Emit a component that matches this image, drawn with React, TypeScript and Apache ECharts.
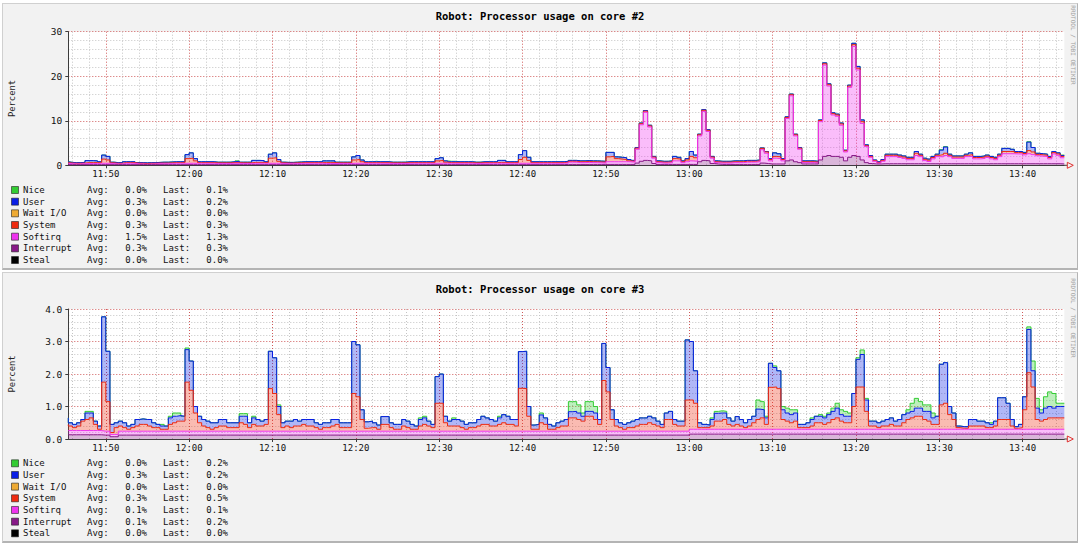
import React, { useEffect, useRef } from "react";
import * as echarts from "echarts";

// ---------- time categories: 30 s slots from 11:45:30 to 13:45:00 ----------
const START_SECONDS = 11 * 3600 + 45 * 60 + 30;
const STEP_SECONDS = 30;
const SLOT_COUNT = 240;
const pad = (n: number) => String(n).padStart(2, "0");
const TIME_CATEGORIES: string[] = Array.from({ length: SLOT_COUNT }, (_, k) => {
  const s = START_SECONDS + k * STEP_SECONDS;
  return `${pad(Math.floor(s / 3600))}:${pad(Math.floor((s % 3600) / 60))}:${pad(s % 60)}`;
});

// ---------- legend ----------
const LEGEND_NAMES = ["Nice", "User", "Wait I/O", "System", "Softirq", "Interrupt", "Steal"];
const LEGEND_COLORS = ["#33cc33", "#0a1ee6", "#eeaa33", "#ee2a10", "#ee33ee", "#881a88", "#000000"];
const TOP_AVG = ["0.0%", "0.3%", "0.0%", "0.3%", "1.5%", "0.3%", "0.0%"];
const TOP_LAST = ["0.1%", "0.2%", "0.0%", "0.3%", "1.3%", "0.3%", "0.0%"];
const BOT_AVG = ["0.0%", "0.3%", "0.0%", "0.3%", "0.1%", "0.1%", "0.0%"];
const BOT_LAST = ["0.2%", "0.2%", "0.0%", "0.5%", "0.1%", "0.2%", "0.0%"];
const TOP_TITLE = "Robot: Processor usage on core #2";
const BOT_TITLE = "Robot: Processor usage on core #3";
const Y_NAME = "Percent";
const WATERMARK = "RRDTOOL / TOBI OETIKER";
const TOP_Y_MAX = 30;
const TOP_Y_STEP = 10;
const BOT_Y_MAX = 4;
const BOT_Y_STEP = 1;

// ---------- core #2 (top) ----------
const TOP_NICE = [
  0,0,0,0,0,0,0,0,0,0, 0,0,0,0,0,0,0,0,0,0,
  0,0,0,0,0,0,0,0,0,0, 0,0,0,0,0,0,0,0,0,0,
  0,0.1,0,0,0,0,0,0,0,0, 0,0,0,0,0,0,0,0,0,0,
  0,0,0,0,0,0,0,0,0,0, 0,0,0,0,0.1,0,0,0,0,0,
  0,0,0,0,0,0,0,0,0,0, 0,0,0.1,0.1,0,0,0,0,0,0,
  0,0,0,0,0,0,0,0,0,0, 0,0,0,0,0,0,0,0,0,0,
  0,0,0,0,0,0,0,0,0,0, 0,0,0,0,0,0,0,0,0,0,
  0,0,0,0,0,0,0,0,0,0, 0,0,0,0,0,0,0,0,0,0,
  0,0,0,0,0,0,0,0,0,0, 0,0,0,0,0,0,0,0,0,0,
  0,0,0,0,0,0,0,0,0,0, 0,0,0,0,0,0,0,0,0,0,
  0,0,0,0,0,0,0,0,0,0, 0.1,0.1,0,0,0,0,0,0,0,0,
  0,0,0,0,0,0,0,0,0,0, 0,0.1,0,0,0,0,0,0,0,0.1,
];
const TOP_USER = [
  0.2,0.15,0.15,0.15,0.15,0.45,0.45,0.4,0.2,0.9, 0.8,0.15,0.15,0.15,0.2,0.2,0.2,0.15,0.15,0.15,
  0.15,0.15,0.15,0.2,0.2,0.2,0.2,0.2,0.2,0.9, 1.2,0.5,0.2,0.2,0.2,0.2,0.15,0.15,0.15,0.15,
  0.2,0.3,0.15,0.15,0.15,0.45,0.45,0.4,0.2,0.9, 1.1,0.4,0.15,0.15,0.15,0.15,0.2,0.2,0.2,0.2,
  0.2,0.2,0.4,0.4,0.4,0.15,0.15,0.15,0.15,0.7, 0.9,0.4,0.2,0.2,0.2,0.2,0.2,0.2,0.15,0.15,
  0.15,0.15,0.2,0.2,0.2,0.2,0.2,0.2,0.2,0.5, 0.6,0.3,0.2,0.2,0.2,0.2,0.2,0.2,0.15,0.15,
  0.2,0.2,0.2,0.2,0.45,0.45,0.2,0.2,0.2,1.1, 1.5,0.7,0.2,0.2,0.2,0.2,0.2,0.2,0.2,0.2,
  0.2,0.2,0.2,0.2,0.2,0.2,0.2,0.2,0.2,0.2, 1.0,0.9,0.4,0.4,0.4,0.3,0.2,0.15,0.15,0.15,
  0.15,0.15,0.2,0.2,0.2,0.2,0.5,0.4,0.2,0.3, 1.1,0.6,0.15,0.15,0.15,0.15,0.2,0.2,0.2,0.2,
  0.2,0.2,0.2,0.2,0.2,0.2,0.2,0.1,0.1,0.2, 0.8,0.7,0.2,0.15,0.15,0.15,0.15,0.2,0.2,0.2,
  0.2,0.15,0.2,0.2,0.2,0.2,0.2,0.15,0.2,0.3, 0.4,0.4,0.2,0.2,0.15,0.15,0.2,0.25,0.25,0.25,
  0.25,0.25,0.25,0.25,0.4,0.25,0.25,0.25,0.25,0.25, 1.0,1.4,0.25,0.25,0.25,0.25,0.25,0.4,0.25,0.25,
  0.25,0.25,0.25,0.25,0.25,0.7,0.7,0.5,0.25,0.25, 0.25,1.9,1.0,0.25,0.25,0.25,0.25,0.25,0.25,0.2,
];
const TOP_SYSTEM = [
  0.15,0.15,0.15,0.15,0.15,0.2,0.2,0.2,0.15,0.95, 0.75,0.15,0.15,0.15,0.15,0.15,0.15,0.15,0.15,0.15,
  0.15,0.15,0.15,0.15,0.15,0.15,0.15,0.15,0.15,1.05, 1.15,0.55,0.15,0.15,0.15,0.15,0.15,0.15,0.15,0.15,
  0.15,0.15,0.15,0.15,0.15,0.2,0.2,0.2,0.15,1.15, 1.25,0.45,0.15,0.15,0.15,0.15,0.15,0.15,0.15,0.15,
  0.15,0.15,0.2,0.2,0.2,0.15,0.15,0.15,0.15,0.75, 0.85,0.35,0.15,0.15,0.15,0.15,0.15,0.15,0.15,0.15,
  0.15,0.15,0.15,0.15,0.15,0.15,0.15,0.15,0.15,0.55, 0.65,0.25,0.15,0.15,0.15,0.15,0.15,0.15,0.15,0.15,
  0.15,0.15,0.15,0.15,0.2,0.2,0.15,0.15,0.15,0.85, 1.35,0.65,0.15,0.15,0.15,0.15,0.15,0.15,0.15,0.15,
  0.2,0.2,0.2,0.2,0.2,0.2,0.2,0.2,0.2,0.2, 1.1,1.2,0.7,0.6,0.5,0.2,0.2,0.25,0.25,0.25,
  0.25,0.25,0.2,0.2,0.2,0.2,0.5,0.4,0.2,0.4, 1.0,0.8,0.25,0.25,0.25,0.25,0.2,0.2,0.2,0.2,
  0.2,0.2,0.2,0.2,0.2,0.2,0.2,0.3,0.3,0.3, 0.4,0.4,0.3,0.25,0.25,0.25,0.25,0.2,0.2,0.2,
  0.2,0.25,0.3,0.3,0.3,0.3,0.3,0.25,0.3,0.4, 0.4,0.4,0.2,0.2,0.15,0.15,0.2,0.3,0.3,0.3,
  0.3,0.3,0.3,0.3,0.5,0.3,0.3,0.3,0.3,0.3, 0.5,0.5,0.3,0.3,0.3,0.3,0.3,0.4,0.3,0.3,
  0.3,0.3,0.3,0.3,0.3,0.5,0.5,0.5,0.3,0.3, 0.3,0.7,0.6,0.3,0.3,0.3,0.3,0.3,0.3,0.3,
];
const TOP_SOFTIRQ = [
  0.3,0.2,0.15,0.15,0.2,0.25,0.25,0.25,0.3,0.3, 0.3,0.25,0.15,0.15,0.3,0.3,0.3,0.15,0.15,0.1,
  0.15,0.15,0.2,0.2,0.2,0.25,0.3,0.3,0.3,0.3, 0.3,0.3,0.3,0.3,0.3,0.3,0.25,0.25,0.25,0.25,
  0.3,0.3,0.25,0.25,0.25,0.3,0.3,0.3,0.3,0.3, 0.3,0.3,0.25,0.2,0.2,0.25,0.25,0.3,0.3,0.3,
  0.3,0.3,0.25,0.25,0.25,0.25,0.25,0.25,0.25,0.3, 0.3,0.3,0.3,0.3,0.3,0.3,0.3,0.3,0.25,0.25,
  0.25,0.25,0.3,0.3,0.3,0.3,0.3,0.3,0.3,0.3, 0.3,0.3,0.3,0.3,0.3,0.3,0.3,0.3,0.25,0.25,
  0.3,0.3,0.3,0.3,0.3,0.3,0.3,0.3,0.3,0.3, 0.3,0.3,0.3,0.3,0.3,0.3,0.3,0.3,0.3,0.3,
  0.3,0.5,0.5,0.4,0.4,0.45,0.4,0.4,0.35,0.3, 0.6,0.6,0.6,0.6,0.6,0.6,0.5,3.1,8.2,10.8,
  7.6,1.2,0.4,0.3,0.3,0.4,0.8,0.8,0.4,0.6, 0.8,0.7,5.8,11.0,6.6,1.2,0.3,0.3,0.3,0.3,
  0.4,0.4,0.4,0.5,0.5,0.5,0.6,3.0,2.3,0.7, 1.3,1.2,0.7,9.5,14.4,5.8,3.0,0.3,0.3,0.3,
  0.2,8.6,20.5,15.6,9.3,9.0,7.2,2.0,15.7,24.5, 19.4,8.2,3.6,1.4,0.6,0.2,0.55,1.6,1.6,1.6,
  1.4,1.2,0.9,0.9,1.85,1.6,0.7,0.5,1.1,1.6, 1.55,1.85,1.6,1.2,1.2,1.2,1.6,1.65,1.1,1.1,
  1.2,1.4,1.1,0.9,1.6,2.25,2.25,2.25,2.2,2.2, 2.0,2.25,2.05,1.8,1.7,1.6,1.1,2.2,1.9,1.4,
];
const TOP_INTERRUPT = [
  0.15,0.15,0.15,0.15,0.15,0.15,0.15,0.15,0.15,0.15, 0.15,0.15,0.15,0.15,0.15,0.15,0.15,0.15,0.15,0.15,
  0.15,0.15,0.15,0.15,0.15,0.15,0.15,0.15,0.15,0.15, 0.15,0.15,0.15,0.15,0.15,0.15,0.15,0.15,0.15,0.15,
  0.15,0.15,0.15,0.15,0.15,0.15,0.15,0.15,0.15,0.15, 0.15,0.15,0.15,0.15,0.15,0.15,0.15,0.15,0.15,0.15,
  0.15,0.15,0.15,0.15,0.15,0.15,0.15,0.15,0.15,0.15, 0.15,0.15,0.15,0.15,0.15,0.15,0.15,0.15,0.15,0.15,
  0.15,0.15,0.15,0.15,0.15,0.15,0.15,0.15,0.15,0.15, 0.15,0.15,0.15,0.15,0.15,0.15,0.15,0.15,0.15,0.15,
  0.15,0.15,0.15,0.15,0.15,0.15,0.15,0.15,0.15,0.15, 0.15,0.15,0.15,0.15,0.15,0.15,0.15,0.15,0.15,0.15,
  0.2,0.2,0.2,0.2,0.2,0.2,0.2,0.2,0.2,0.2, 0.2,0.2,0.2,0.2,0.2,0.2,0.2,0.5,0.9,1.1,
  1.0,0.4,0.2,0.2,0.2,0.2,0.2,0.2,0.2,0.2, 0.2,0.2,0.8,1.1,1.0,0.4,0.3,0.2,0.2,0.2,
  0.2,0.2,0.2,0.2,0.2,0.2,0.2,0.5,0.4,0.3, 0.3,0.3,0.3,1.0,1.2,0.8,0.6,0.3,0.3,0.3,
  0.3,1.2,2.0,2.2,2.0,2.0,1.8,1.0,1.8,2.2, 2.0,1.2,0.6,0.4,0.3,0.3,0.35,0.35,0.35,0.35,
  0.35,0.35,0.35,0.35,0.35,0.35,0.35,0.35,0.35,0.35, 0.35,0.35,0.35,0.35,0.35,0.35,0.35,0.35,0.35,0.35,
  0.35,0.35,0.35,0.35,0.35,0.35,0.35,0.35,0.35,0.35, 0.35,0.35,0.35,0.35,0.35,0.35,0.35,0.35,0.35,0.3,
];

// ---------- core #3 (bottom) ----------
const BOT_NICE = [
  0,0,0,0,0,0.05,0.05,0,0,0, 0,0,0,0,0,0,0,0,0,0,
  0,0,0,0.05,0,0.05,0.1,0.08,0,0.05, 0,0,0,0,0,0,0,0,0,0,
  0,0,0.08,0.08,0,0.05,0,0,0,0, 0,0.05,0,0,0,0,0,0,0,0,
  0,0,0,0,0,0,0,0,0,0, 0,0,0,0,0,0,0,0,0,0,
  0,0,0,0,0,0.05,0.05,0,0,0, 0,0,0,0.05,0,0,0,0,0,0,
  0,0,0,0,0.05,0,0,0,0,0, 0,0,0,0,0.06,0,0,0,0,0,
  0,0.31,0.3,0.25,0.1,0.3,0.3,0.2,0,0, 0,0,0,0,0,0,0,0,0,0,
  0,0,0,0,0,0,0,0,0,0, 0,0,0,0,0,0.05,0.06,0.07,0.05,0,
  0,0,0,0,0,0,0.28,0.25,0.05,0, 0.05,0,0.1,0.15,0.15,0.1,0,0,0,0.05,
  0,0.05,0.05,0.05,0.1,0.15,0.15,0.15,0.1,0, 0.05,0.14,0.05,0,0,0,0,0,0,0,
  0,0,0.1,0.25,0.3,0.2,0.2,0.2,0.15,0, 0,0,0,0,0,0,0,0,0,0,
  0,0,0.05,0,0,0,0,0,0,0, 0,0.08,0.3,0.3,0.1,0.35,0.45,0.45,0.1,0.1,
];
const BOT_USER = [
  0.2,0.1,0.1,0.1,0.05,0.2,0.15,0.1,0.1,2.01, 1.55,0.25,0.15,0.15,0.15,0.1,0.1,0.2,0.17,0.15,
  0.2,0.15,0.1,0.1,0.1,0.2,0.2,0.17,0.15,1.0, 0.9,0.2,0.2,0.2,0.2,0.2,0.15,0.2,0.2,0.15,
  0.15,0.15,0.2,0.25,0.15,0.2,0.2,0.15,0.15,1.15, 1.1,0.25,0.15,0.15,0.2,0.2,0.15,0.15,0.2,0.2,
  0.15,0.15,0.15,0.15,0.2,0.15,0.15,0.15,0.15,1.6, 1.6,0.3,0.2,0.2,0.15,0.13,0.24,0.24,0.15,0.15,
  0.15,0.2,0.2,0.15,0.1,0.2,0.2,0.15,0.1,0.82, 0.9,0.2,0.15,0.2,0.2,0.2,0.15,0.15,0.15,0.2,
  0.25,0.2,0.2,0.15,0.2,0.25,0.25,0.15,0.2,1.13, 1.15,0.3,0.13,0.15,0.24,0.2,0.15,0.1,0.15,0.15,
  0.2,0.19,0.2,0.2,0.15,0.15,0.15,0.2,0.15,1.14, 0.75,0.3,0.2,0.15,0.15,0.15,0.2,0.2,0.2,0.2,
  0.2,0.2,0.15,0.1,0.2,0.25,0.15,0.15,0.15,1.85, 1.8,1.0,0.15,0.1,0.08,0.2,0.24,0.25,0.2,0.2,
  0.15,0.24,0.2,0.15,0.2,0.2,0.32,0.25,0.2,0.74, 0.6,0.55,0.3,0.25,0.25,0.25,0.1,0.1,0.15,0.2,
  0.2,0.2,0.2,0.25,0.25,0.3,0.2,0.2,0.2,0.4, 0.85,1.0,0.35,0.15,0.15,0.15,0.15,0.2,0.2,0.15,
  0.2,0.25,0.2,0.2,0.25,0.25,0.25,0.3,0.2,0.25, 1.25,1.25,0.25,0.2,0.05,0.05,0.05,0.2,0.2,0.15,
  0.15,0.15,0.1,0.15,0.67,0.67,0.5,0.2,0.05,0.1, 0.4,1.33,0.5,0.35,0.25,0.35,0.35,0.3,0.35,0.35,
];
const BOT_SYSTEM = [
  0.19,0.14,0.09,0.14,0.29,0.34,0.39,0.19,0.04,1.51, 0.91,0.06,0.21,0.16,0.11,0.06,0.11,0.16,0.21,0.21,
  0.16,0.11,0.11,0.06,0.06,0.21,0.26,0.31,0.31,1.51, 1.26,0.56,0.26,0.16,0.11,0.06,0.11,0.16,0.16,0.11,
  0.11,0.11,0.26,0.21,0.11,0.21,0.16,0.16,0.21,1.31, 1.16,0.51,0.11,0.16,0.11,0.16,0.16,0.21,0.16,0.16,
  0.11,0.06,0.11,0.11,0.16,0.21,0.11,0.11,0.11,1.16, 1.06,0.36,0.09,0.11,0.11,0.06,0.21,0.21,0.11,0.06,
  0.06,0.16,0.11,0.06,0.06,0.16,0.21,0.16,0.11,0.86, 0.86,0.26,0.16,0.16,0.16,0.11,0.06,0.11,0.11,0.16,
  0.21,0.21,0.16,0.16,0.21,0.26,0.21,0.21,0.16,1.32, 1.31,0.46,0.06,0.06,0.26,0.21,0.06,0.06,0.11,0.16,
  0.16,0.41,0.41,0.36,0.31,0.46,0.46,0.36,0.21,1.56, 1.21,0.36,0.16,0.11,0.06,0.11,0.11,0.16,0.21,0.21,
  0.26,0.21,0.16,0.11,0.36,0.36,0.21,0.16,0.16,0.96, 0.9,0.8,0.05,0.05,0.05,0.1,0.25,0.25,0.3,0.15,
  0.1,0.15,0.1,0.05,0.1,0.2,0.3,0.35,0.15,1.29, 1.3,1.25,0.3,0.25,0.2,0.25,0.05,0.05,0.05,0.1,
  0.2,0.2,0.15,0.2,0.3,0.35,0.25,0.2,0.2,0.7, 1.3,1.3,0.55,0.1,0.1,0.05,0.1,0.1,0.15,0.1,
  0.1,0.2,0.3,0.35,0.4,0.4,0.3,0.25,0.15,0.15, 0.75,0.8,0.45,0.3,0.05,0.03,0.03,0.1,0.1,0.1,
  0.1,0.05,0.05,0.1,0.3,0.3,0.3,0.1,0.03,0.05, 0.6,1.74,1.3,0.3,0.25,0.3,0.35,0.35,0.35,0.35,
];
const BOT_SOFTIRQ = [
  0.13,0.13,0.13,0.13,0.13,0.13,0.13,0.13,0.13,0.12, 0.12,0.07,0.07,0.12,0.12,0.12,0.12,0.12,0.12,0.12,
  0.12,0.12,0.12,0.12,0.12,0.12,0.12,0.12,0.12,0.12, 0.12,0.12,0.12,0.12,0.12,0.12,0.12,0.12,0.12,0.12,
  0.12,0.12,0.12,0.12,0.12,0.12,0.12,0.12,0.12,0.12, 0.12,0.12,0.12,0.12,0.12,0.12,0.12,0.12,0.12,0.12,
  0.12,0.12,0.12,0.12,0.12,0.12,0.12,0.12,0.12,0.12, 0.12,0.12,0.12,0.12,0.12,0.12,0.12,0.12,0.12,0.12,
  0.12,0.12,0.12,0.12,0.12,0.12,0.12,0.12,0.12,0.12, 0.12,0.12,0.12,0.12,0.12,0.12,0.12,0.12,0.12,0.12,
  0.12,0.12,0.12,0.12,0.12,0.12,0.12,0.12,0.12,0.12, 0.12,0.12,0.12,0.12,0.12,0.12,0.12,0.12,0.12,0.12,
  0.12,0.12,0.12,0.12,0.12,0.12,0.12,0.12,0.12,0.12, 0.12,0.12,0.12,0.12,0.12,0.12,0.12,0.12,0.12,0.12,
  0.12,0.12,0.12,0.12,0.12,0.12,0.12,0.12,0.12,0.12, 0.15,0.15,0.15,0.15,0.15,0.15,0.15,0.15,0.15,0.15,
  0.15,0.15,0.15,0.15,0.15,0.15,0.15,0.15,0.15,0.15, 0.15,0.15,0.15,0.15,0.15,0.15,0.15,0.15,0.15,0.15,
  0.15,0.15,0.15,0.15,0.15,0.15,0.15,0.15,0.15,0.15, 0.15,0.15,0.15,0.15,0.15,0.15,0.15,0.15,0.15,0.15,
  0.15,0.15,0.15,0.15,0.15,0.15,0.15,0.15,0.15,0.15, 0.15,0.15,0.15,0.15,0.15,0.15,0.15,0.15,0.15,0.15,
  0.15,0.15,0.15,0.15,0.15,0.15,0.15,0.15,0.15,0.15, 0.15,0.15,0.15,0.15,0.15,0.15,0.15,0.15,0.15,0.15,
];
const BOT_INTERRUPT = [
  0.13,0.13,0.13,0.13,0.13,0.13,0.13,0.13,0.13,0.12, 0.12,0.07,0.07,0.12,0.12,0.12,0.12,0.12,0.12,0.12,
  0.12,0.12,0.12,0.12,0.12,0.12,0.12,0.12,0.12,0.12, 0.12,0.12,0.12,0.12,0.12,0.12,0.12,0.12,0.12,0.12,
  0.12,0.12,0.12,0.12,0.12,0.12,0.12,0.12,0.12,0.12, 0.12,0.12,0.12,0.12,0.12,0.12,0.12,0.12,0.12,0.12,
  0.12,0.12,0.12,0.12,0.12,0.12,0.12,0.12,0.12,0.12, 0.12,0.12,0.12,0.12,0.12,0.12,0.12,0.12,0.12,0.12,
  0.12,0.12,0.12,0.12,0.12,0.12,0.12,0.12,0.12,0.12, 0.12,0.12,0.12,0.12,0.12,0.12,0.12,0.12,0.12,0.12,
  0.12,0.12,0.12,0.12,0.12,0.12,0.12,0.12,0.12,0.12, 0.12,0.12,0.12,0.12,0.12,0.12,0.12,0.12,0.12,0.12,
  0.12,0.12,0.12,0.12,0.12,0.12,0.12,0.12,0.12,0.12, 0.12,0.12,0.12,0.12,0.12,0.12,0.12,0.12,0.12,0.12,
  0.12,0.12,0.12,0.12,0.12,0.12,0.12,0.12,0.12,0.12, 0.15,0.15,0.15,0.15,0.15,0.15,0.15,0.15,0.15,0.15,
  0.15,0.15,0.15,0.15,0.15,0.15,0.15,0.15,0.15,0.15, 0.15,0.15,0.15,0.15,0.15,0.15,0.15,0.15,0.15,0.15,
  0.15,0.15,0.15,0.15,0.15,0.15,0.15,0.15,0.15,0.15, 0.15,0.15,0.15,0.15,0.15,0.15,0.15,0.15,0.15,0.15,
  0.15,0.15,0.15,0.15,0.15,0.15,0.15,0.15,0.15,0.15, 0.15,0.15,0.15,0.15,0.15,0.15,0.15,0.15,0.15,0.15,
  0.15,0.15,0.15,0.15,0.15,0.15,0.15,0.15,0.15,0.15, 0.15,0.15,0.15,0.15,0.15,0.15,0.15,0.15,0.15,0.15,
];

// ---------- styling ----------
const MONO = "'DejaVu Sans Mono', 'Liberation Mono', monospace";
const AXIS_COLOR = "#3c3c3c";
const MINOR_GRID = "#c4c4c4";
const MAJOR_GRID = "#d05a5a";
const AREA_OPACITY = 0.32;

const minuteOf = (v: string) => Number(v.slice(3, 5));
const isMajor = (_i: number, v: string) => v.endsWith(":00") && minuteOf(v) % 10 === 0;
const isMinor = (_i: number, v: string) =>
  v.endsWith(":00") && minuteOf(v) % 2 === 0 && minuteOf(v) % 10 !== 0;

const GRIDS = [
  { left: 68.3, top: 31.7, width: 996, height: 133.6 },
  { left: 68.3, top: 309, width: 996, height: 130 },
];

function xAxesFor(gridIndex: number) {
  return [
    {
      type: "category",
      gridIndex,
      data: TIME_CATEGORIES,
      boundaryGap: false,
      axisLine: { show: true, onZero: false, lineStyle: { color: AXIS_COLOR, width: 1 } },
      axisTick: { show: true, interval: isMajor, length: 3, lineStyle: { color: AXIS_COLOR } },
      axisLabel: {
        show: true,
        interval: isMajor,
        formatter: (v: string) => v.slice(0, 5),
        fontFamily: MONO,
        fontSize: 9,
        color: "#111",
        margin: 4,
      },
      splitLine: { show: true, interval: isMinor, lineStyle: { color: MINOR_GRID, type: [1, 2], width: 1 } },
    },
    {
      type: "category",
      gridIndex,
      data: TIME_CATEGORIES,
      boundaryGap: false,
      position: "bottom",
      axisLine: { show: false },
      axisTick: { show: false },
      axisLabel: { show: false },
      splitLine: { show: true, interval: isMajor, lineStyle: { color: MAJOR_GRID, type: [1, 2], width: 1 } },
    },
  ];
}

function yAxisFor(gridIndex: number, max: number, step: number, decimals: number) {
  return {
    type: "value",
    gridIndex,
    min: 0,
    max,
    interval: step,
    axisLine: { show: true, lineStyle: { color: AXIS_COLOR, width: 1 } },
    axisTick: { show: true, length: 3, lineStyle: { color: AXIS_COLOR } },
    axisLabel: {
      fontFamily: MONO,
      fontSize: 9.5,
      color: "#111",
      margin: 6,
      formatter: (v: number) => v.toFixed(decimals),
    },
    splitLine: { show: true, lineStyle: { color: MAJOR_GRID, type: [1, 2], width: 1 } },
    minorTick: { show: false, splitNumber: 5 },
    minorSplitLine: { show: true, lineStyle: { color: MINOR_GRID, type: [1, 2], width: 1 } },
  };
}

function stackSeries(
  gridIndex: number,
  stackName: string,
  layers: { name: string; data: number[]; color: string }[]
) {
  // layers listed bottom -> top; lower layers draw their outline on top
  return layers.map((l, i) => ({
    type: "line",
    name: l.name,
    data: l.data,
    xAxisIndex: gridIndex * 2,
    yAxisIndex: gridIndex,
    stack: stackName,
    step: "start",
    symbol: "none",
    showSymbol: false,
    silent: true,
    z: 10 - i,
    lineStyle: { color: l.color, width: 1 },
    itemStyle: { color: l.color },
    areaStyle: { color: l.color, opacity: AREA_OPACITY },
    emphasis: { disabled: true },
  }));
}

function legendGraphics(firstRowY: number, avg: string[], last: string[]) {
  const els: any[] = [];
  const rowGap = 11.67;
  LEGEND_NAMES.forEach((name, i) => {
    const y = firstRowY + i * rowGap;
    const font = { fontFamily: MONO, fontSize: 9, fill: "#111", verticalAlign: "middle" };
    els.push({
      type: "rect",
      shape: { x: 11.5, y: y - 3.5, width: 7, height: 7 },
      style: { fill: LEGEND_COLORS[i], stroke: "#222", lineWidth: 0.6 },
    });
    els.push({ type: "text", x: 23, y, style: { ...font, text: name, align: "left" } });
    els.push({ type: "text", x: 87, y, style: { ...font, text: "Avg:", align: "left" } });
    els.push({ type: "text", x: 147, y, style: { ...font, text: avg[i], align: "right" } });
    els.push({ type: "text", x: 163, y, style: { ...font, text: "Last:", align: "left" } });
    els.push({ type: "text", x: 228, y, style: { ...font, text: last[i], align: "right" } });
  });
  return els;
}

function panelGraphics(grid: { left: number; top: number; width: number; height: number }, title: string, titleY: number, firstRowY: number, avg: string[], last: string[]) {
  const axisY = grid.top + grid.height;
  const endX = grid.left + grid.width;
  return [
    {
      type: "text",
      x: 540,
      y: titleY,
      style: { text: title, fontFamily: MONO, fontSize: 10.5, fontWeight: "bold", fill: "#000", align: "center", verticalAlign: "middle" },
    },
    {
      type: "text",
      x: 12,
      y: grid.top + grid.height / 2,
      rotation: Math.PI / 2,
      style: { text: Y_NAME, fontFamily: MONO, fontSize: 8.8, fill: "#222", align: "center", verticalAlign: "middle" },
    },
    {
      type: "text",
      x: 1073,
      y: titleY + 29,
      rotation: -Math.PI / 2,
      style: { text: WATERMARK, fontFamily: MONO, fontSize: 6, fill: "#a0a0a0", align: "center", verticalAlign: "middle" },
    },
    {
      type: "line",
      shape: { x1: endX, y1: axisY, x2: endX + 3, y2: axisY },
      style: { stroke: AXIS_COLOR, lineWidth: 1 },
    },
    {
      type: "polygon",
      shape: { points: [[endX + 3, axisY - 3], [endX + 9, axisY], [endX + 3, axisY + 3]] },
      style: { fill: "none", stroke: "#e03030", lineWidth: 1 },
    },
    ...legendGraphics(firstRowY, avg, last),
  ];
}

const option: any = {
  animation: false,
  backgroundColor: "transparent",
  grid: GRIDS.map((g) => ({
    ...g,
    show: true,
    backgroundColor: "#ffffff",
    borderWidth: 0,
    containLabel: false,
    outerBoundsMode: "none",
  })),
  xAxis: [...xAxesFor(0), ...xAxesFor(1)],
  yAxis: [yAxisFor(0, TOP_Y_MAX, TOP_Y_STEP, 0), yAxisFor(1, BOT_Y_MAX, BOT_Y_STEP, 1)],
  series: [
    ...stackSeries(0, "core2", [
      { name: "Interrupt", data: TOP_INTERRUPT, color: LEGEND_COLORS[5] },
      { name: "Softirq", data: TOP_SOFTIRQ, color: LEGEND_COLORS[4] },
      { name: "System", data: TOP_SYSTEM, color: LEGEND_COLORS[3] },
      { name: "User", data: TOP_USER, color: LEGEND_COLORS[1] },
      { name: "Nice", data: TOP_NICE, color: LEGEND_COLORS[0] },
    ]),
    ...stackSeries(1, "core3", [
      { name: "Interrupt", data: BOT_INTERRUPT, color: LEGEND_COLORS[5] },
      { name: "Softirq", data: BOT_SOFTIRQ, color: LEGEND_COLORS[4] },
      { name: "System", data: BOT_SYSTEM, color: LEGEND_COLORS[3] },
      { name: "User", data: BOT_USER, color: LEGEND_COLORS[1] },
      { name: "Nice", data: BOT_NICE, color: LEGEND_COLORS[0] },
    ]),
  ],
  graphic: {
    elements: [
      ...panelGraphics(GRIDS[0], TOP_TITLE, 16, 190, TOP_AVG, TOP_LAST),
      ...panelGraphics(GRIDS[1], BOT_TITLE, 289, 463.3, BOT_AVG, BOT_LAST),
    ].map((e) => ({ ...e, z: 50 })),
  },
};

const panelStyle = (top: number, height: number): React.CSSProperties => ({
  position: "absolute",
  left: 2,
  top,
  width: 1076,
  height,
  boxSizing: "border-box",
  background: "#f2f2f2",
  borderTop: "1px solid #d0d0d0",
  borderLeft: "1px solid #d0d0d0",
  borderRight: "1px solid #b4b4b4",
  borderBottom: "2px solid #b4b4b4",
});

export default function App() {
  const ref = useRef<HTMLDivElement>(null);
  useEffect(() => {
    document.body.style.margin = "0";
    if (!ref.current) return;
    const chart = echarts.init(ref.current, null, { renderer: "svg", width: 1080, height: 545 });
    chart.setOption(option);
    return () => chart.dispose();
  }, []);
  return (
    <div style={{ position: "relative", width: 1080, height: 545, background: "#ffffff", overflow: "hidden" }}>
      <div style={panelStyle(3, 267)} />
      <div style={panelStyle(272, 271)} />
      <div ref={ref} style={{ position: "absolute", left: 0, top: 0, width: 1080, height: 545 }} />
    </div>
  );
}
